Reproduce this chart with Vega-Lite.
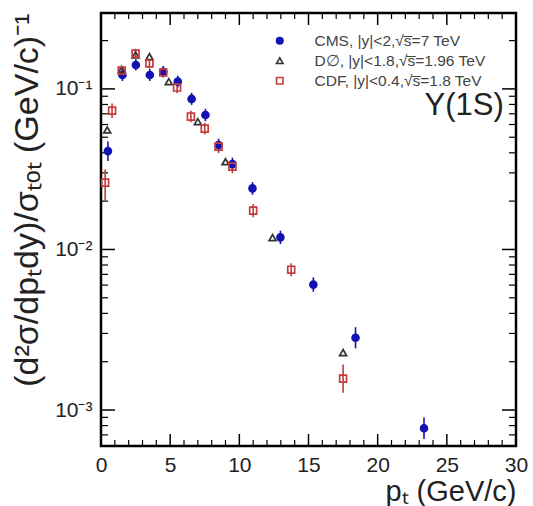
{
  "$schema": "https://vega.github.io/schema/vega-lite/v6.json",
  "width": 415,
  "height": 433,
  "autosize": {"type": "none"},
  "padding": {"left": 101, "top": 13, "right": 17, "bottom": 60},
  "background": "white",
  "config": {"view": {"stroke": "black", "strokeWidth": 2.5}, "font": "Liberation Sans"},
  "datasets": {
    "xmajor": [{"t": 5}, {"t": 10}, {"t": 15}, {"t": 20}, {"t": 25}],
    "xminor": [{"t": 1}, {"t": 2}, {"t": 3}, {"t": 4}, {"t": 6}, {"t": 7}, {"t": 8}, {"t": 9}, {"t": 11}, {"t": 12}, {"t": 13}, {"t": 14}, {"t": 16}, {"t": 17}, {"t": 18}, {"t": 19}, {"t": 21}, {"t": 22}, {"t": 23}, {"t": 24}, {"t": 26}, {"t": 27}, {"t": 28}, {"t": 29}],
    "ymajor": [{"t": 0.001}, {"t": 0.01}, {"t": 0.1}],
    "yminor": [{"t": 0.0006}, {"t": 0.0007}, {"t": 0.0008}, {"t": 0.0009}, {"t": 0.002}, {"t": 0.003}, {"t": 0.004}, {"t": 0.005}, {"t": 0.006}, {"t": 0.007}, {"t": 0.008}, {"t": 0.009}, {"t": 0.02}, {"t": 0.03}, {"t": 0.04}, {"t": 0.05}, {"t": 0.06}, {"t": 0.07}, {"t": 0.08}, {"t": 0.09}, {"t": 0.2}],
    "points": [
      {"exp": "CMS", "pt": 0.5, "v": 0.041, "lo": 0.0355, "hi": 0.047},
      {"exp": "CMS", "pt": 1.55, "v": 0.122, "lo": 0.112, "hi": 0.133},
      {"exp": "CMS", "pt": 2.52, "v": 0.141, "lo": 0.130, "hi": 0.153},
      {"exp": "CMS", "pt": 3.53, "v": 0.122, "lo": 0.112, "hi": 0.133},
      {"exp": "CMS", "pt": 4.5, "v": 0.128, "lo": 0.118, "hi": 0.139},
      {"exp": "CMS", "pt": 5.55, "v": 0.111, "lo": 0.102, "hi": 0.121},
      {"exp": "CMS", "pt": 6.55, "v": 0.0866, "lo": 0.0795, "hi": 0.0945},
      {"exp": "CMS", "pt": 7.55, "v": 0.0688, "lo": 0.063, "hi": 0.0752},
      {"exp": "CMS", "pt": 8.5, "v": 0.0447, "lo": 0.0408, "hi": 0.049},
      {"exp": "CMS", "pt": 9.5, "v": 0.034, "lo": 0.031, "hi": 0.0373},
      {"exp": "CMS", "pt": 10.95, "v": 0.024, "lo": 0.0219, "hi": 0.0263},
      {"exp": "CMS", "pt": 12.97, "v": 0.0119, "lo": 0.0108, "hi": 0.0131},
      {"exp": "CMS", "pt": 15.35, "v": 0.00604, "lo": 0.00545, "hi": 0.0067},
      {"exp": "CMS", "pt": 18.4, "v": 0.00282, "lo": 0.00242, "hi": 0.00328},
      {"exp": "CMS", "pt": 23.35, "v": 0.00077, "lo": 0.00066, "hi": 0.0009},
      {"exp": "D0", "pt": 0.45, "v": 0.0555},
      {"exp": "D0", "pt": 1.5, "v": 0.132},
      {"exp": "D0", "pt": 2.5, "v": 0.163},
      {"exp": "D0", "pt": 3.5, "v": 0.159},
      {"exp": "D0", "pt": 4.9, "v": 0.111},
      {"exp": "D0", "pt": 7.0, "v": 0.0625},
      {"exp": "D0", "pt": 9.0, "v": 0.0352},
      {"exp": "D0", "pt": 12.4, "v": 0.01186},
      {"exp": "D0", "pt": 17.5, "v": 0.00228},
      {"exp": "CDF", "pt": 0.3, "v": 0.0261, "lo": 0.02, "hi": 0.0315},
      {"exp": "CDF", "pt": 0.8, "v": 0.0733, "lo": 0.066, "hi": 0.081},
      {"exp": "CDF", "pt": 1.5, "v": 0.13, "lo": 0.121, "hi": 0.139},
      {"exp": "CDF", "pt": 2.5, "v": 0.166, "lo": 0.155, "hi": 0.178},
      {"exp": "CDF", "pt": 3.5, "v": 0.144, "lo": 0.134, "hi": 0.154},
      {"exp": "CDF", "pt": 4.5, "v": 0.1265, "lo": 0.118, "hi": 0.136},
      {"exp": "CDF", "pt": 5.5, "v": 0.102, "lo": 0.094, "hi": 0.111},
      {"exp": "CDF", "pt": 6.5, "v": 0.0672, "lo": 0.062, "hi": 0.073},
      {"exp": "CDF", "pt": 7.5, "v": 0.0566, "lo": 0.052, "hi": 0.0615},
      {"exp": "CDF", "pt": 8.5, "v": 0.0437, "lo": 0.0398, "hi": 0.048},
      {"exp": "CDF", "pt": 9.5, "v": 0.0328, "lo": 0.0298, "hi": 0.036},
      {"exp": "CDF", "pt": 11.0, "v": 0.01746, "lo": 0.0159, "hi": 0.0192},
      {"exp": "CDF", "pt": 13.75, "v": 0.00748, "lo": 0.0068, "hi": 0.0082},
      {"exp": "CDF", "pt": 17.5, "v": 0.00157, "lo": 0.00128, "hi": 0.00192}
    ]
  },
  "layer": [
    {
      "data": {"name": "xmajor"},
      "mark": {"type": "tick", "orient": "vertical", "size": 24, "thickness": 1.5, "color": "black", "opacity": 1, "clip": true},
      "encoding": {
        "x": {"field": "t", "type": "quantitative", "scale": {"domain": [0, 30], "nice": false, "zero": false}, "axis": null},
        "y": {"datum": 0.000597, "type": "quantitative", "scale": {"type": "log", "domain": [0.000597, 0.297], "nice": false}, "axis": null}
      }
    },
    {
      "data": {"name": "xmajor"},
      "mark": {"type": "tick", "orient": "vertical", "size": 24, "thickness": 1.5, "color": "black", "opacity": 1, "clip": true},
      "encoding": {
        "x": {"field": "t", "type": "quantitative", "axis": null},
        "y": {"datum": 0.297, "type": "quantitative", "axis": null}
      }
    },
    {
      "data": {"name": "xminor"},
      "mark": {"type": "tick", "orient": "vertical", "size": 12, "thickness": 1.2, "color": "black", "opacity": 1, "clip": true},
      "encoding": {
        "x": {"field": "t", "type": "quantitative", "axis": null},
        "y": {"datum": 0.000597, "type": "quantitative", "axis": null}
      }
    },
    {
      "data": {"name": "xminor"},
      "mark": {"type": "tick", "orient": "vertical", "size": 12, "thickness": 1.2, "color": "black", "opacity": 1, "clip": true},
      "encoding": {
        "x": {"field": "t", "type": "quantitative", "axis": null},
        "y": {"datum": 0.297, "type": "quantitative", "axis": null}
      }
    },
    {
      "data": {"name": "ymajor"},
      "mark": {"type": "tick", "orient": "horizontal", "size": 28, "thickness": 1.5, "color": "black", "opacity": 1, "clip": true},
      "encoding": {
        "y": {"field": "t", "type": "quantitative", "axis": null},
        "x": {"datum": 0, "type": "quantitative", "axis": null}
      }
    },
    {
      "data": {"name": "ymajor"},
      "mark": {"type": "tick", "orient": "horizontal", "size": 28, "thickness": 1.5, "color": "black", "opacity": 1, "clip": true},
      "encoding": {
        "y": {"field": "t", "type": "quantitative", "axis": null},
        "x": {"datum": 30, "type": "quantitative", "axis": null}
      }
    },
    {
      "data": {"name": "yminor"},
      "mark": {"type": "tick", "orient": "horizontal", "size": 14, "thickness": 1.2, "color": "black", "opacity": 1, "clip": true},
      "encoding": {
        "y": {"field": "t", "type": "quantitative", "axis": null},
        "x": {"datum": 0, "type": "quantitative", "axis": null}
      }
    },
    {
      "data": {"name": "yminor"},
      "mark": {"type": "tick", "orient": "horizontal", "size": 14, "thickness": 1.2, "color": "black", "opacity": 1, "clip": true},
      "encoding": {
        "y": {"field": "t", "type": "quantitative", "axis": null},
        "x": {"datum": 30, "type": "quantitative", "axis": null}
      }
    },
    {
      "data": {"name": "points"},
      "transform": [{"filter": "datum.exp === 'CMS'"}],
      "mark": {"type": "rule", "color": "#1212b4", "strokeWidth": 1.6},
      "encoding": {
        "x": {
          "field": "pt", "type": "quantitative",
          "scale": {"domain": [0, 30], "nice": false, "zero": false},
          "axis": {
            "orient": "bottom", "values": [0, 5, 10, 15, 20, 25, 30],
            "grid": false, "ticks": false, "domain": false,
            "labelFontSize": 21, "labelColor": "#222", "labelPadding": 8,
            "labelFlush": false, "labelOverlap": false,
            "title": "pₜ (GeV/c)", "titleFontSize": 29, "titleFontWeight": "normal",
            "titleColor": "#222", "titleAnchor": "end", "titlePadding": 2
          }
        },
        "y": {
          "field": "lo", "type": "quantitative",
          "scale": {"type": "log", "domain": [0.000597, 0.297], "nice": false},
          "axis": {
            "orient": "left", "values": [0.001, 0.01, 0.1],
            "grid": false, "ticks": false, "domain": false,
            "labelFontSize": 21, "labelColor": "#222", "labelPadding": 9,
            "labelOverlap": false,
            "labelExpr": "datum.value > 0.05 ? '10⁻¹' : datum.value > 0.005 ? '10⁻²' : '10⁻³'",
            "title": "(d²σ/dpₜdy)/σₜₒₜ (GeV/c)⁻¹", "titleFontSize": 34,
            "titleFontWeight": "normal", "titleColor": "#222",
            "titleAnchor": "end", "titlePadding": 10
          }
        },
        "y2": {"field": "hi"}
      }
    },
    {
      "data": {"name": "points"},
      "transform": [{"filter": "datum.exp === 'CDF'"}],
      "mark": {"type": "rule", "color": "#c43c3c", "strokeWidth": 1.6},
      "encoding": {
        "x": {"field": "pt", "type": "quantitative", "axis": null},
        "y": {"field": "lo", "type": "quantitative", "axis": null},
        "y2": {"field": "hi"}
      }
    },
    {
      "data": {"name": "points"},
      "mark": {"type": "point", "strokeWidth": 1.7, "opacity": 1},
      "encoding": {
        "x": {"field": "pt", "type": "quantitative", "axis": null},
        "y": {"field": "v", "type": "quantitative", "axis": null},
        "shape": {
          "field": "exp", "type": "nominal",
          "scale": {"domain": ["CMS", "D0", "CDF"], "range": ["circle", "triangle-up", "square"]},
          "legend": {
            "orient": "none", "legendX": 171, "legendY": 20, "title": null,
            "padding": 0, "rowPadding": 3, "labelOffset": 27, "labelLimit": 400,
            "labelFontSize": 15.5, "labelColor": "#444", "labelFont": "Liberation Sans",
            "symbolSize": 42, "symbolStrokeWidth": 1.6,
            "labelExpr": "datum.label === 'CMS' ? 'CMS, |y|<2,√s̅=7 TeV' : datum.label === 'D0' ? 'D∅, |y|<1.8,√s̅=1.96 TeV' : 'CDF, |y|<0.4,√s̅=1.8 TeV'"
          }
        },
        "stroke": {
          "field": "exp", "type": "nominal",
          "scale": {"domain": ["CMS", "D0", "CDF"], "range": ["#1212b4", "#333333", "#c43c3c"]}
        },
        "fill": {
          "field": "exp", "type": "nominal",
          "scale": {"domain": ["CMS", "D0", "CDF"], "range": ["#1212b4", "transparent", "transparent"]}
        },
        "size": {"value": 48}
      }
    },
    {
      "data": {"values": [{}]},
      "mark": {"type": "text", "fontSize": 31, "font": "Liberation Sans", "align": "center", "baseline": "alphabetic", "color": "#222"},
      "encoding": {
        "x": {"datum": 26.25, "type": "quantitative", "axis": null},
        "y": {"datum": 0.0692, "type": "quantitative", "axis": null},
        "text": {"value": "Υ(1S)"}
      }
    }
  ],
  "resolve": {"axis": {"x": "independent", "y": "independent"}}
}
